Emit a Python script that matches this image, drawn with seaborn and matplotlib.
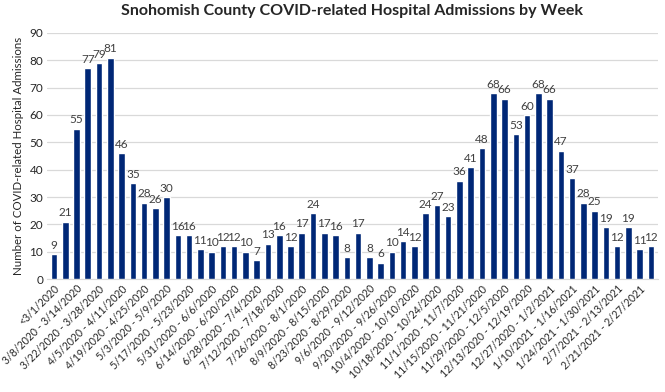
"""Snohomish County weekly COVID-related hospital admissions bar chart."""

import matplotlib
matplotlib.use("Agg")

import pandas as pd
import matplotlib.pyplot as plt
import seaborn as sns


BAR_COLOR = "#002776"
LABEL_COLOR = "#404040"

weeks = [
    "<3/1/2020", "3/1/2020 - 3/7/2020", "3/8/2020 - 3/14/2020",
    "3/15/2020 - 3/21/2020", "3/22/2020 - 3/28/2020", "3/29/2020 - 4/4/2020",
    "4/5/2020 - 4/11/2020", "4/12/2020 - 4/18/2020", "4/19/2020 - 4/25/2020",
    "4/26/2020 - 5/2/2020", "5/3/2020 - 5/9/2020", "5/10/2020 - 5/16/2020",
    "5/17/2020 - 5/23/2020", "5/24/2020 - 5/30/2020", "5/31/2020 - 6/6/2020",
    "6/7/2020 - 6/13/2020", "6/14/2020 - 6/20/2020", "6/21/2020 - 6/27/2020",
    "6/28/2020 - 7/4/2020", "7/5/2020 - 7/11/2020", "7/12/2020 - 7/18/2020",
    "7/19/2020 - 7/25/2020", "7/26/2020 - 8/1/2020", "8/2/2020 - 8/8/2020",
    "8/9/2020 - 8/15/2020", "8/16/2020 - 8/22/2020", "8/23/2020 - 8/29/2020",
    "8/30/2020 - 9/5/2020", "9/6/2020 - 9/12/2020", "9/13/2020 - 9/19/2020",
    "9/20/2020 - 9/26/2020", "9/27/2020 - 10/3/2020", "10/4/2020 - 10/10/2020",
    "10/11/2020 - 10/17/2020", "10/18/2020 - 10/24/2020",
    "10/25/2020 - 10/31/2020", "11/1/2020 - 11/7/2020",
    "11/8/2020 - 11/14/2020", "11/15/2020 - 11/21/2020",
    "11/22/2020 - 11/28/2020", "11/29/2020 - 12/5/2020",
    "12/6/2020 - 12/12/2020", "12/13/2020 - 12/19/2020",
    "12/20/2020 - 12/26/2020", "12/27/2020 - 1/2/2021",
    "1/3/2021 - 1/9/2021", "1/10/2021 - 1/16/2021", "1/17/2021 - 1/23/2021",
    "1/24/2021 - 1/30/2021", "1/31/2021 - 2/6/2021", "2/7/2021 - 2/13/2021",
    "2/14/2021 - 2/20/2021", "2/21/2021 - 2/27/2021", "2/28/2021 - 3/6/2021",
]

admissions = [
    9, 21, 55, 77, 79, 81, 46, 35, 28, 26, 30, 16, 16, 11, 10, 12, 12, 10,
    7, 13, 16, 12, 17, 24, 17, 16, 8, 17, 8, 6, 10, 14, 12, 24, 27, 23,
    36, 41, 48, 68, 66, 53, 60, 68, 66, 47, 37, 28, 25, 19, 12, 19, 11, 12,
]

y_ticks = list(range(0, 100, 10))

df = pd.DataFrame({"week": weeks, "admissions": admissions})

sns.set_style("white")
plt.rcParams["font.family"] = ["Lato", "DejaVu Sans"]

fig = plt.figure(figsize=(6.65, 3.92), dpi=100)
ax = fig.add_axes([0.071, 0.288, 0.918, 0.628])

sns.barplot(
    data=df,
    x="week",
    y="admissions",
    color=BAR_COLOR,
    saturation=1,
    width=0.58,
    ax=ax,
    zorder=3,
)

for i, value in enumerate(admissions):
    ax.text(
        i,
        value + 1.2,
        f"{value}",
        ha="center",
        va="bottom",
        fontsize=8.5,
        color=LABEL_COLOR,
        zorder=4,
    )

ax.set_xticks(range(len(weeks)))
ax.set_xticklabels(
    [w if i % 2 == 0 else "" for i, w in enumerate(weeks)],
    rotation=45,
    ha="right",
    rotation_mode="anchor",
    fontsize=7.6,
    color="#262626",
)
ax.set_xlim(-0.6, len(weeks) - 0.4)

ax.set_ylim(0, 90)
ax.set_yticks(y_ticks)
ax.set_yticklabels([str(t) for t in y_ticks], fontsize=8.5, color="#262626")
ax.set_xlabel("")
ax.set_ylabel(
    "Number of COVID-related Hospital Admissions",
    fontsize=8.3,
    color="#262626",
    labelpad=4,
)

ax.tick_params(axis="both", length=0, pad=3)
ax.grid(axis="y", color="#d9d9d9", linewidth=0.9)
ax.set_axisbelow(True)

for side in ["top", "right", "left"]:
    ax.spines[side].set_visible(False)
ax.spines["bottom"].set_color("#d9d9d9")

fig.suptitle(
    "Snohomish County COVID-related Hospital Admissions by Week",
    fontsize=11.5,
    fontweight="bold",
    color="#262626",
    x=0.53,
    y=0.99,
)

fig.savefig("out.png", dpi=100)
plt.close(fig)
